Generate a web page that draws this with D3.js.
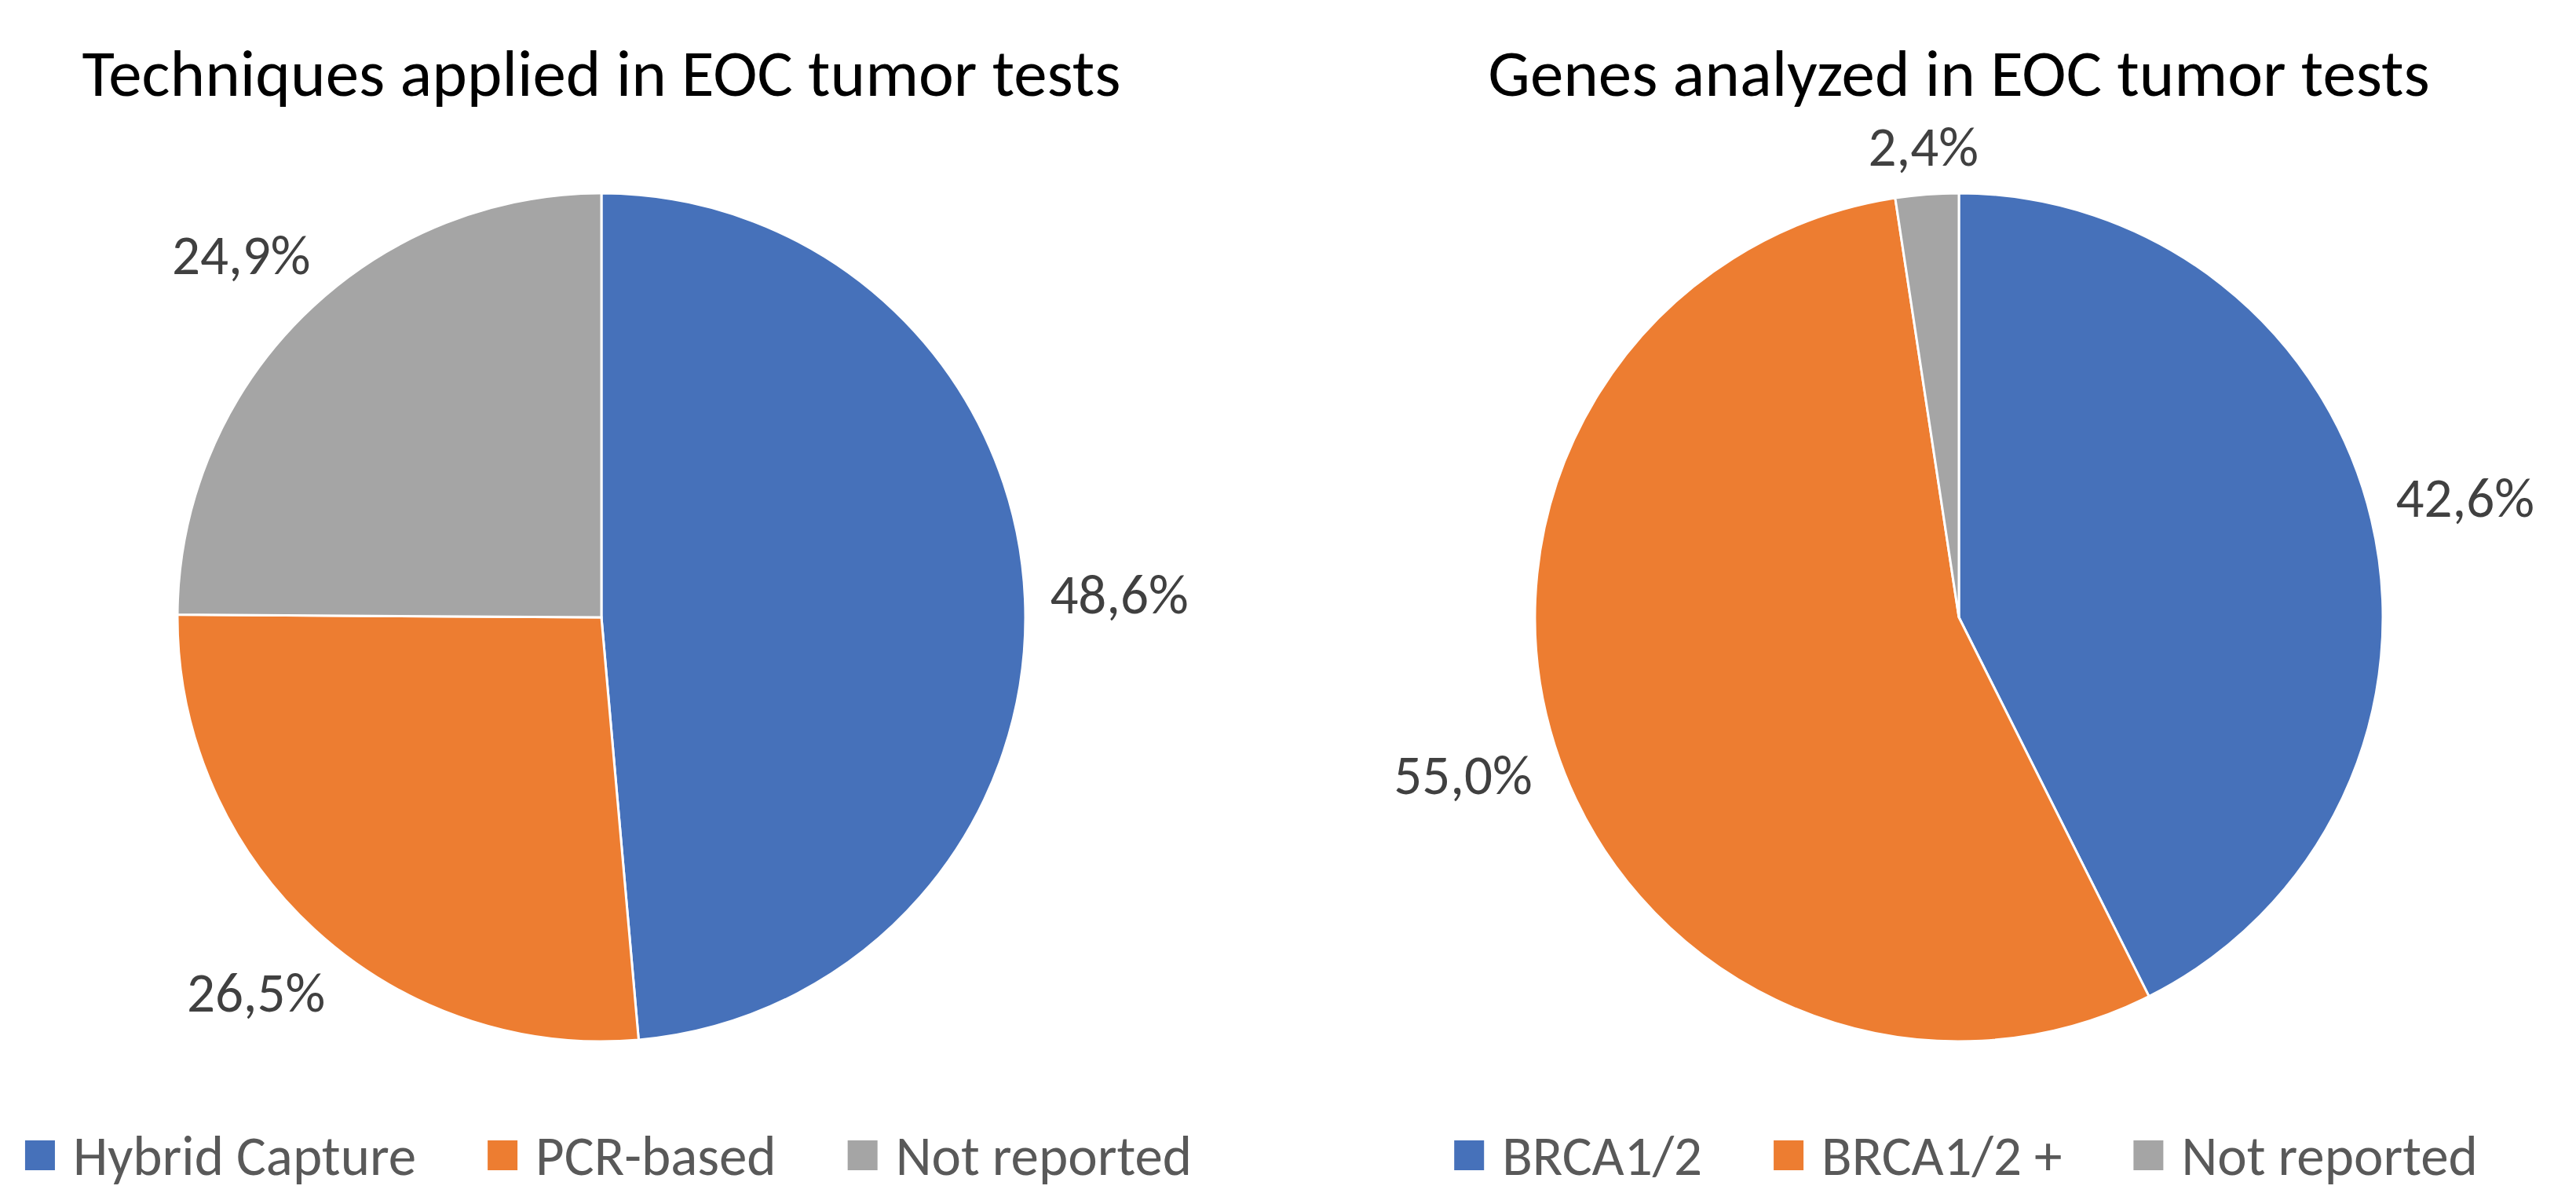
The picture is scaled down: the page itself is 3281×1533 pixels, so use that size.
<html>
<head>
  <meta charset="utf-8">
  <title>EOC tumor tests</title>
  <script src="https://d3js.org/d3.v7.min.js"></script>
  <style>
    html, body { margin: 0; background: #fff; }
    text { font-family: Carlito, Calibri, "Liberation Sans Narrow", Lato, sans-serif; }
  </style>
</head>
<body>
<script>
// data
var techTitle = 'Techniques applied in EOC tumor tests';
var techLabels = ['Hybrid Capture', 'PCR-based', 'Not reported'];
var techValues = [48.6, 26.5, 24.9];

var geneTitle = 'Genes analyzed in EOC tumor tests';
var geneLabels = ['BRCA1/2', 'BRCA1/2 +', 'Not reported'];
var geneValues = [42.6, 55.0, 2.4];

var colors = ['#4671BA', '#ED7D31', '#A5A5A5'];

var width = 3281,
    height = 1533;

var svg = d3.select('body')
  .append('svg')
  .attr('width', width)
  .attr('height', height);

svg.append('rect')
  .attr('width', width)
  .attr('height', height)
  .attr('fill', '#fff');

var radius = 540,
    pieY = 786,
    labelSize = 71,
    fmt = function (v) { return d3.format('.1f')(v).replace('.', ',') + '%'; };

var color = d3.scaleOrdinal().range(colors);

function drawPie(cx, title, labels, values) {
  var g = svg.append('g');

  g.append('text')
    .attr('x', cx)
    .attr('y', 122)
    .attr('text-anchor', 'middle')
    .attr('font-size', 85)
    .attr('fill', '#000')
    .text(title);

  var pie = d3.pie().sort(null).value(function (d) { return d; });
  var arc = d3.arc().innerRadius(0).outerRadius(radius);
  var arcs = pie(values);

  var slices = g.append('g').attr('transform', 'translate(' + cx + ',' + pieY + ')');

  slices.selectAll('path')
    .data(arcs)
    .enter()
    .append('path')
    .attr('d', arc)
    .attr('fill', function (d, i) { return color(i); })
    .attr('stroke', '#fff')
    .attr('stroke-width', 3);

  // labels just outside the edge, along the middle of each slice
  slices.selectAll('text')
    .data(arcs)
    .enter()
    .append('text')
    .attr('text-anchor', 'middle')
    .attr('dominant-baseline', 'central')
    .attr('font-size', labelSize)
    .attr('fill', '#404040')
    .text(function (d) { return fmt(d.data); })
    .each(function (d) {
      var a = (d.startAngle + d.endAngle) / 2,
          w = this.getComputedTextLength(),
          h = 50,
          dist = radius + 31 + Math.abs(Math.sin(a)) * w / 2 + Math.abs(Math.cos(a)) * h / 2;
      d3.select(this)
        .attr('x', dist * Math.sin(a))
        .attr('y', -dist * Math.cos(a));
    });

  // legend
  var legend = g.append('g');
  var x = 0;
  labels.forEach(function (name, i) {
    legend.append('rect')
      .attr('x', x)
      .attr('y', -19)
      .attr('width', 38)
      .attr('height', 38)
      .attr('fill', color(i));
    var t = legend.append('text')
      .attr('x', x + 61)
      .attr('y', 0)
      .attr('dominant-baseline', 'central')
      .attr('font-size', labelSize)
      .attr('fill', '#595959')
      .text(name);
    x += 61 + t.node().getComputedTextLength();
    if (i < labels.length - 1) x += 91;
  });
  legend.attr('transform', 'translate(' + (cx + 9 - x / 2) + ',1471)');
}

drawPie(766, techTitle, techLabels, techValues);
drawPie(2495, geneTitle, geneLabels, geneValues);
</script>
</body>
</html>
